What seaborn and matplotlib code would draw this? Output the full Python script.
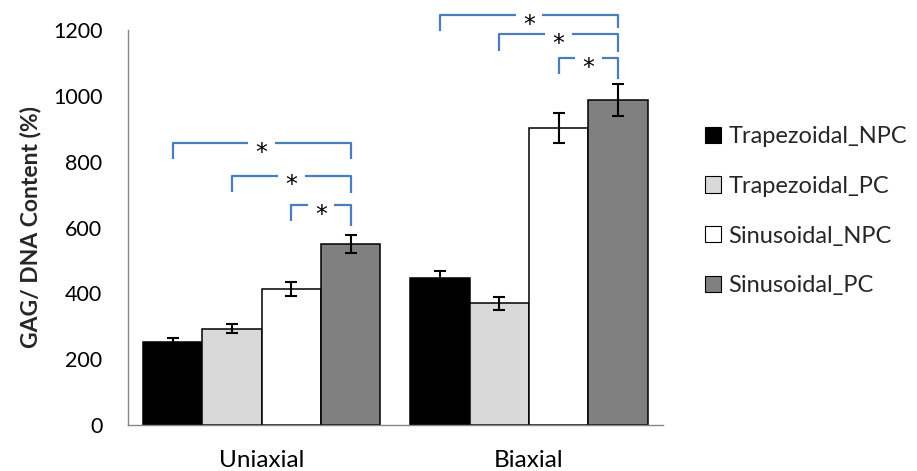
import numpy as np
import pandas as pd
import matplotlib
matplotlib.use("Agg")
import matplotlib.pyplot as plt
from matplotlib.patches import Patch
import seaborn as sns

# data
categories = ["Uniaxial", "Biaxial"]
groups = ["Trapezoidal_NPC", "Trapezoidal_PC", "Sinusoidal_NPC", "Sinusoidal_PC"]
colors = ["#000000", "#d9d9d9", "#ffffff", "#808080"]

uniaxial_mean = [252, 293, 413, 550]
uniaxial_err = [12, 15, 20, 27]
biaxial_mean = [447, 370, 903, 988]
biaxial_err = [22, 20, 46, 49]

# significance brackets: (category index, from group index) -> Sinusoidal_PC
bracket_cat = [0, 0, 0, 1, 1, 1]
bracket_from = [0, 1, 2, 0, 1, 2]
bracket_top = [856, 757, 668, 1246, 1188, 1114]
bracket_left_end = [807, 707, 621, 1198, 1137, 1066]
bracket_right_end = [807, 704, 604, 1205, 1132, 1051]

sns.set_theme(style="white")
plt.rcParams["font.family"] = ["Lato", "DejaVu Sans"]

df = pd.DataFrame({
    "category": np.repeat(categories, len(groups)),
    "group": groups * len(categories),
    "value": uniaxial_mean + biaxial_mean,
    "err": uniaxial_err + biaxial_err,
})

fig = plt.figure(figsize=(9.17, 4.71), dpi=100)
ax = fig.add_axes([128 / 917, 46 / 471, 534.6 / 917, 395 / 471])

sns.barplot(data=df, x="category", y="value", hue="group", order=categories,
            hue_order=groups, palette=colors, width=0.888, errorbar=None,
            edgecolor="black", linewidth=1.1, saturation=1, ax=ax, legend=False)

# bar centres per (category, group)
bar_containers = list(ax.containers)
centers = {}
for h, cont in enumerate(bar_containers):
    for c, bar in enumerate(cont):
        centers[(c, h)] = bar.get_x() + bar.get_width() / 2

# error bars
for _, row in df.iterrows():
    c = categories.index(row["category"])
    h = groups.index(row["group"])
    ax.errorbar(centers[(c, h)], row["value"], yerr=row["err"], fmt="none", ecolor="black",
                elinewidth=1.5, capsize=4.6, capthick=1.5, zorder=5)

# brackets
blue = "#4a7ebb"
gap = 0.05
for c, h, top, le, re in zip(bracket_cat, bracket_from, bracket_top,
                             bracket_left_end, bracket_right_end):
    xl = centers[(c, h)]
    xr = centers[(c, 3)]
    xm = (xl + xr) / 2
    ax.plot([xl, xl, xm - gap], [le, top, top], color=blue, lw=1.6, clip_on=False,
            solid_capstyle="butt")
    ax.plot([xm + gap, xr, xr], [top, top, re], color=blue, lw=1.6, clip_on=False,
            solid_capstyle="butt")
    ax.annotate("*", (xm, top), xytext=(0, -12), textcoords="offset points",
                ha="center", va="baseline", fontsize=17, color="black",
                family="DejaVu Sans", annotation_clip=False)

ax.set_ylim(0, 1200)
ax.set_xlim(-0.5, 1.5)
ax.set_yticks(range(0, 1201, 200))
ax.set_xlabel("")
ax.set_ylabel("GAG/ DNA Content (%)", fontsize=16.5, fontweight="bold", labelpad=8)

ax.set_xticks([-0.5, 0.5, 1.5], minor=True)
ax.tick_params(axis="x", which="major", length=0, labelsize=17.5, pad=18, colors="black")
ax.tick_params(axis="x", which="minor", length=7, width=1, color="#868686")
ax.tick_params(axis="y", length=6.5, width=1, color="#868686", labelsize=15.5, pad=12)
ax.tick_params(axis="y", labelcolor="black")

for side in ["top", "right"]:
    ax.spines[side].set_visible(False)
for side in ["left", "bottom"]:
    ax.spines[side].set_color("#868686")
    ax.spines[side].set_linewidth(1)

handles = [Patch(facecolor=col, edgecolor="black", linewidth=0.8) for col in colors]
fig.legend(handles, groups, loc="upper left", bbox_to_anchor=(705 / 917, 1 - 126 / 471),
           frameon=False, fontsize=17, handlelength=0.68, handleheight=0.68,
           handletextpad=0.3, labelspacing=1.22, borderpad=0, borderaxespad=0)

fig.savefig("out.png", dpi=100)
